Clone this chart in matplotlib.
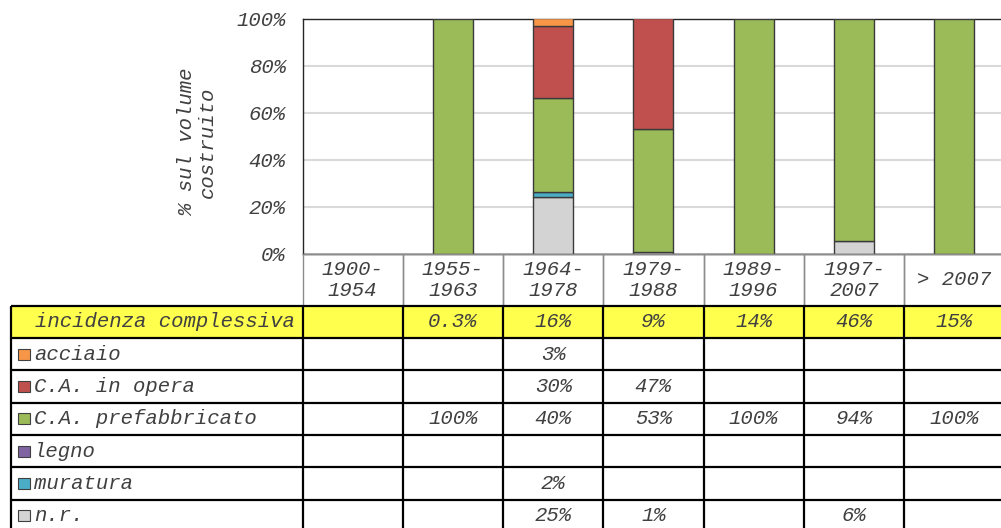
import matplotlib
matplotlib.use("Agg")
import matplotlib.pyplot as plt
from matplotlib.patches import Rectangle
import numpy as np

plt.rcParams.update({
    "font.family": ["Liberation Mono", "DejaVu Sans Mono"],
    "font.style": "italic",
    "font.size": 14.9,
    "text.color": "#404040",
})

# ── data ─────────────────────────────────────────────────────────
periods = ["1900-\n1954", "1955-\n1963", "1964-\n1978", "1979-\n1988",
           "1989-\n1996", "1997-\n2007", "> 2007"]
materials = ["acciaio", "C.A. in opera", "C.A. prefabbricato",
             "legno", "muratura", "n.r."]
colors = ["#F79646", "#C0504D", "#9BBB59", "#8064A2", "#4BACC6", "#D3D3D3"]

# bar heights (% of built volume), as drawn
acciaio  = [0, 0, 3.1, 0, 0, 0, 0]
in_opera = [0, 0, 30.9, 46.9, 0, 0, 0]
prefab   = [0, 100, 39.9, 52.5, 100, 94.7, 100]
legno    = [0, 0, 0, 0, 0, 0, 0]
muratura = [0, 0, 2.0, 0, 0, 0, 0]
nr       = [0, 0, 24.1, 0.6, 0, 5.3, 0]

# table text
incidenza    = ["", "0.3%", "16%", "9%", "14%", "46%", "15%"]
acciaio_txt  = ["", "", "3%", "", "", "", ""]
in_opera_txt = ["", "", "30%", "47%", "", "", ""]
prefab_txt   = ["", "100%", "40%", "53%", "100%", "94%", "100%"]
legno_txt    = ["", "", "", "", "", "", ""]
muratura_txt = ["", "", "2%", "", "", "", ""]
nr_txt       = ["", "", "25%", "1%", "", "6%", ""]

series = [acciaio, in_opera, prefab, legno, muratura, nr]
rows_txt = [acciaio_txt, in_opera_txt, prefab_txt, legno_txt, muratura_txt, nr_txt]

# ── layout (pixels) ──────────────────────────────────────────────
W, H = 1001, 528
COLW = 100.27
X0 = 302.5
fig = plt.figure(figsize=(W / 100, H / 100), dpi=100)

ax = fig.add_axes([X0 / W, 1 - 253.5 / H, 7 * COLW / W, (253.5 - 18.5) / H])
x = np.arange(len(periods))

# stacked from the bottom: n.r., muratura, legno, prefab, in opera, acciaio
bottom = np.zeros(len(periods))
for vals, col in zip(series[::-1], colors[::-1]):
    vals = np.array(vals, dtype=float)
    mask = vals > 0
    ax.bar(x[mask], vals[mask], 0.4, bottom=bottom[mask], color=col,
           edgecolor="#3A3A3A", linewidth=1.0, zorder=3)
    bottom += vals

ax.set_xlim(-0.5, 6.5)
ax.set_ylim(0, 100)
ax.set_yticks(np.arange(0, 101, 20))
ax.set_yticklabels([f"{v}%" for v in range(0, 101, 20)])
ax.tick_params(axis="y", length=0, pad=12, labelcolor="#404040")
ax.set_xticks([])
ax.yaxis.grid(True, color="#D9D9D9", linewidth=1.5)
ax.set_axisbelow(True)
for s in ax.spines.values():
    s.set_color("#262626")
    s.set_linewidth(1.0)

fig.text(197 / W, 1 - 142 / H, "% sul volume\ncostruito", rotation=90,
         ha="center", va="center", multialignment="center",
         linespacing=1.1, color="#404040")

# ── table ───────────────────────────────────────────────────────
left_px = 11
xl = -0.5 - (X0 - left_px) / COLW
tx = fig.add_axes([left_px / W, 1 - 532 / H, (X0 + 7 * COLW - left_px) / W, 278 / H])
tx.set_xlim(xl, 6.5)
tx.set_ylim(8.6, 0)
tx.axis("off")

HDR = 1.6
# header cells
for i, lab in enumerate(periods):
    tx.add_patch(Rectangle((i - 0.5, 0), 1, HDR, fill=False,
                           edgecolor="#8C8C8C", linewidth=1.0, clip_on=False))
    tx.text(i, HDR / 2, lab, ha="center", va="center",
            multialignment="center", linespacing=1.15)

# yellow row
tx.add_patch(Rectangle((xl, HDR), 6.5 - xl, 1, facecolor="#FFFF4D",
                       edgecolor="none", clip_on=False))
tx.text(xl + 24 / COLW, HDR + 0.5, "incidenza complessiva", ha="left", va="center")
for i, t in enumerate(incidenza):
    tx.text(i, HDR + 0.5, t, ha="center", va="center")

# material rows
for r, (name, col, txt) in enumerate(zip(materials, colors, rows_txt)):
    yc = HDR + 1.5 + r
    tx.add_patch(Rectangle((xl + 7 / COLW, yc - 0.17), 12 / COLW, 0.34,
                           facecolor=col, edgecolor="#404040", linewidth=0.8,
                           clip_on=False))
    tx.text(xl + 23 / COLW, yc, name, ha="left", va="center")
    for i, t in enumerate(txt):
        tx.text(i, yc, t, ha="center", va="center")

# grid lines
ys = HDR + np.arange(0, 8)
tx.hlines(ys, xl, 6.5, color="black", linewidth=1.6, clip_on=False)
xs = np.concatenate([[xl], np.arange(-0.5, 7, 1.0)])
tx.vlines(xs, HDR, 8.6, color="black", linewidth=1.6, clip_on=False)

fig.savefig("out.png", dpi=100)
